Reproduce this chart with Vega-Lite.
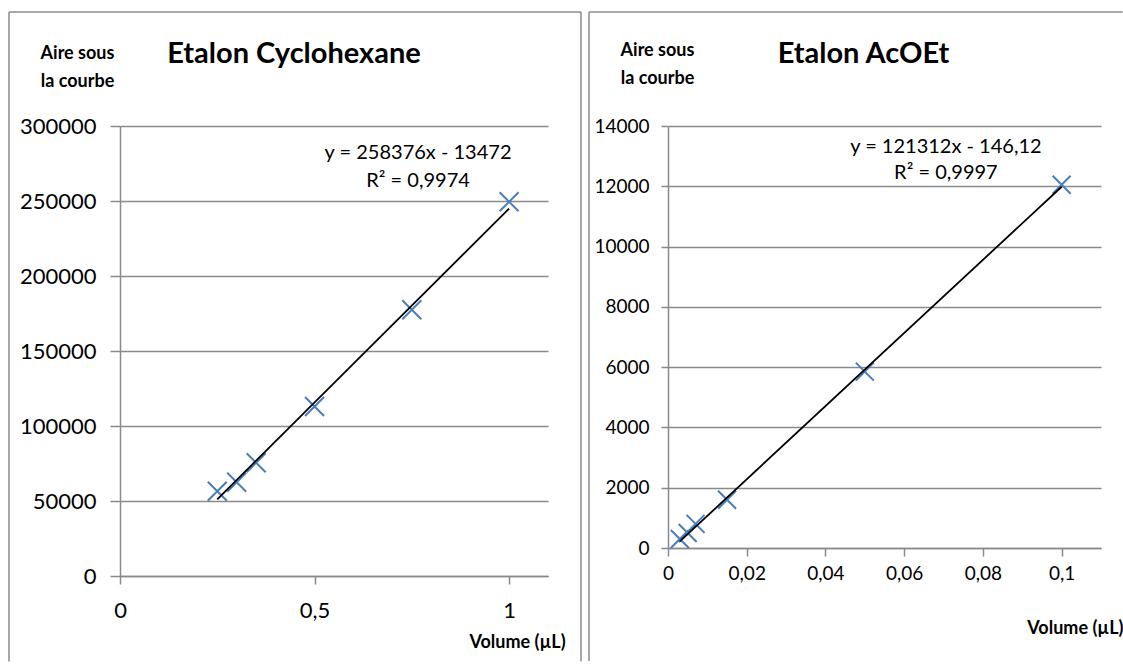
{
  "$schema": "https://vega.github.io/schema/vega-lite/v6.json",
  "background": "white",
  "padding": {"left": 8, "top": 11, "right": 0, "bottom": 0},
  "bounds": "flush",
  "spacing": 120,
  "config": {
    "view": {"stroke": null},
    "font": "Lato",
    "axis": {
      "domainColor": "#8a8a8a",
      "domainWidth": 1.5,
      "tickColor": "#8a8a8a",
      "tickWidth": 1.5,
      "gridColor": "#8a8a8a",
      "gridWidth": 1.5,
      "labelColor": "#000000",
      "labelFont": "Lato",
      "labelFlush": false,
      "titleColor": "#000000",
      "titleFont": "Lato",
      "titleFontWeight": "bold",
      "labelExpr": "replace(format(datum.value, '~g'), '.', ',')"
    },
    "title": {"color": "#000000", "font": "Lato", "fontWeight": "bold"}
  },
  "datasets": {
    "frame": [{"part": "border"}],
    "cyclo": [
      {"volume": 0.25, "aire": 56500},
      {"volume": 0.3, "aire": 62500},
      {"volume": 0.35, "aire": 75500},
      {"volume": 0.5, "aire": 113000},
      {"volume": 0.75, "aire": 177500},
      {"volume": 1, "aire": 249500}
    ],
    "cycloFit": [
      {"volume": 0.25, "aire": 51122},
      {"volume": 1, "aire": 244904}
    ],
    "cycloEq": [{"equation": "y = 258376x - 13472", "r2": "R² = 0,9974"}],
    "acoet": [
      {"volume": 0.003, "aire": 300},
      {"volume": 0.005, "aire": 500},
      {"volume": 0.007, "aire": 800},
      {"volume": 0.015, "aire": 1600},
      {"volume": 0.05, "aire": 5850},
      {"volume": 0.1, "aire": 12050}
    ],
    "acoetFit": [
      {"volume": 0.003, "aire": 218},
      {"volume": 0.1, "aire": 11985}
    ],
    "acoetEq": [{"equation": "y = 121312x - 146,12", "r2": "R² = 0,9997"}]
  },
  "hconcat": [
    {
      "width": 428,
      "height": 450,
      "title": {"text": "Etalon Cyclohexane", "fontSize": 29, "anchor": "middle", "baseline": "alphabetic", "dx": -40, "dy": 85},
      "layer": [
        {
          "data": {"name": "cyclo"},
          "mark": {"type": "point", "shape": "M-1,-1L1,1M-1,1L1,-1", "filled": false, "size": 361, "strokeWidth": 2, "color": "#4a7ebb", "opacity": 1},
          "encoding": {
            "x": {
              "field": "volume", "type": "quantitative",
              "scale": {"domain": [0, 1.1], "nice": false, "zero": false},
              "axis": {
                "values": [0, 0.5, 1], "grid": false, "tickSize": 8, "labelFontSize": 22, "labelPadding": 16,
                "title": "Volume (µL)", "titleFontSize": 18, "titleX": 397, "titleY": 71, "titleAlign": "center", "titleBaseline": "alphabetic"
              }
            },
            "y": {
              "field": "aire", "type": "quantitative",
              "scale": {"domain": [0, 300000], "nice": false},
              "axis": {
                "values": [0, 50000, 100000, 150000, 200000, 250000, 300000], "grid": true, "tickSize": 10, "labelFontSize": 22, "labelPadding": 14,
                "title": ["Aire sous", "la courbe"], "titleFontSize": 18, "titleAngle": 0, "titleX": -43, "titleY": -68, "titleAlign": "center", "titleBaseline": "alphabetic", "titleLineHeight": 28
              }
            }
          }
        },
        {
          "data": {"name": "cycloFit"},
          "mark": {"type": "line", "color": "#000000", "strokeWidth": 1.8},
          "encoding": {
            "x": {"field": "volume", "type": "quantitative"},
            "y": {"field": "aire", "type": "quantitative"}
          }
        },
        {
          "data": {"name": "cycloEq"},
          "mark": {"type": "text", "fontSize": 20, "align": "center", "baseline": "alphabetic", "color": "#000000"},
          "encoding": {
            "x": {"datum": 0.766, "type": "quantitative"},
            "y": {"datum": 278000, "type": "quantitative"},
            "text": {"field": "equation"}
          }
        },
        {
          "data": {"name": "cycloEq"},
          "mark": {"type": "text", "fontSize": 20, "align": "center", "baseline": "alphabetic", "color": "#000000"},
          "encoding": {
            "x": {"datum": 0.766, "type": "quantitative"},
            "y": {"datum": 259500, "type": "quantitative"},
            "text": {"field": "r2"}
          }
        },
        {
          "data": {"name": "frame"},
          "mark": {"type": "rule", "color": "#8c8c8c", "strokeWidth": 1.5},
          "encoding": {
            "x": {"datum": -0.2853, "type": "quantitative"},
            "y": {"datum": 376000, "type": "quantitative"},
            "y2": {"datum": -57000}
          }
        },
        {
          "data": {"name": "frame"},
          "mark": {"type": "rule", "color": "#8c8c8c", "strokeWidth": 1.5},
          "encoding": {
            "x": {"datum": 1.1848, "type": "quantitative"},
            "y": {"datum": 376000, "type": "quantitative"},
            "y2": {"datum": -57000}
          }
        },
        {
          "data": {"name": "frame"},
          "mark": {"type": "rule", "color": "#8c8c8c", "strokeWidth": 1.5},
          "encoding": {
            "x": {"datum": -0.2853, "type": "quantitative"},
            "x2": {"datum": 1.1848},
            "y": {"datum": 376000, "type": "quantitative"}
          }
        }
      ]
    },
    {
      "width": 433,
      "height": 422,
      "title": {"text": "Etalon AcOEt", "fontSize": 29, "anchor": "middle", "baseline": "alphabetic", "dx": -21, "dy": 85},
      "layer": [
        {
          "data": {"name": "acoet"},
          "mark": {"type": "point", "shape": "M-1,-1L1,1M-1,1L1,-1", "filled": false, "size": 324, "strokeWidth": 2, "color": "#4a7ebb", "opacity": 1},
          "encoding": {
            "x": {
              "field": "volume", "type": "quantitative",
              "scale": {"domain": [0, 0.11], "nice": false, "zero": false},
              "axis": {
                "values": [0, 0.02, 0.04, 0.06, 0.08, 0.1], "grid": false, "tickSize": 8, "labelFontSize": 19, "labelPadding": 8,
                "title": "Volume (µL)", "titleFontSize": 18, "titleX": 455, "titleY": 85, "titleAlign": "right", "titleBaseline": "alphabetic"
              }
            },
            "y": {
              "field": "aire", "type": "quantitative",
              "scale": {"domain": [0, 14000], "nice": false},
              "axis": {
                "values": [0, 2000, 4000, 6000, 8000, 10000, 12000, 14000], "grid": true, "tickSize": 7, "labelFontSize": 19, "labelPadding": 12,
                "title": ["Aire sous", "la courbe"], "titleFontSize": 18, "titleAngle": 0, "titleX": -11, "titleY": -71, "titleAlign": "center", "titleBaseline": "alphabetic", "titleLineHeight": 28
              }
            }
          }
        },
        {
          "data": {"name": "acoetFit"},
          "mark": {"type": "line", "color": "#000000", "strokeWidth": 1.8},
          "encoding": {
            "x": {"field": "volume", "type": "quantitative"},
            "y": {"field": "aire", "type": "quantitative"}
          }
        },
        {
          "data": {"name": "acoetEq"},
          "mark": {"type": "text", "fontSize": 20, "align": "center", "baseline": "alphabetic", "color": "#000000"},
          "encoding": {
            "x": {"datum": 0.0706, "type": "quantitative"},
            "y": {"datum": 13100, "type": "quantitative"},
            "text": {"field": "equation"}
          }
        },
        {
          "data": {"name": "acoetEq"},
          "mark": {"type": "text", "fontSize": 20, "align": "center", "baseline": "alphabetic", "color": "#000000"},
          "encoding": {
            "x": {"datum": 0.0706, "type": "quantitative"},
            "y": {"datum": 12230, "type": "quantitative"},
            "text": {"field": "r2"}
          }
        },
        {
          "data": {"name": "frame"},
          "mark": {"type": "rule", "color": "#8c8c8c", "strokeWidth": 1.5},
          "encoding": {
            "x": {"datum": -0.02007, "type": "quantitative"},
            "y": {"datum": 17782, "type": "quantitative"},
            "y2": {"datum": -3750}
          }
        },
        {
          "data": {"name": "frame"},
          "mark": {"type": "rule", "color": "#8c8c8c", "strokeWidth": 1.5},
          "encoding": {
            "x": {"datum": -0.02007, "type": "quantitative"},
            "x2": {"datum": 0.1155},
            "y": {"datum": 17782, "type": "quantitative"}
          }
        }
      ]
    }
  ]
}
